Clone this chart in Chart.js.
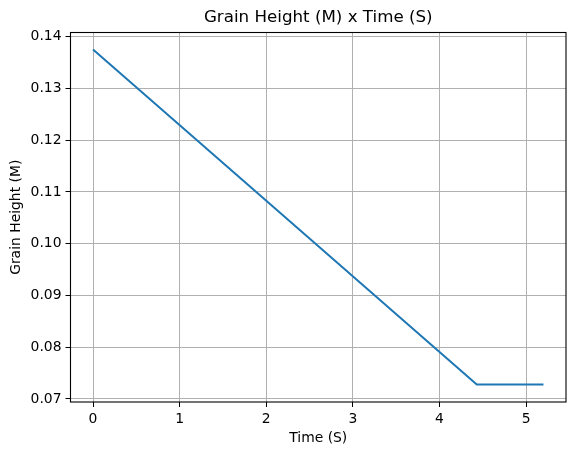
<!DOCTYPE html>
<html>
<head>
<meta charset="utf-8">
<script src="https://cdn.jsdelivr.net/npm/chart.js@4"></script>
<style>
  html, body { margin: 0; padding: 0; background: #fff; }
  #wrap { width: 576px; height: 455px; }
</style>
</head>
<body>
<div id="wrap"><canvas id="c" width="576" height="455"></canvas></div>
<script>
// Grain height over time
const timeS = [0, 4.43, 5.2];
const heightM = [0.1375, 0.0728, 0.0728];
const xTicks = [0, 1, 2, 3, 4, 5];
const yTicks = [0.07, 0.08, 0.09, 0.10, 0.11, 0.12, 0.13, 0.14];
const chartTitle = "Grain Height (M) x Time (S)";

const FONT = "'DejaVu Sans', sans-serif";

// full box around the plot area + title centred over the axes, like matplotlib
const boxPlugin = {
  id: "box",
  afterDatasetsDraw(chart) {
    const a = chart.chartArea;
    const ctx = chart.ctx;
    ctx.save();
    ctx.strokeStyle = "#000";
    ctx.lineWidth = 1.1;
    ctx.strokeRect(a.left, a.top, a.right - a.left, a.bottom - a.top);
    ctx.fillStyle = "#000";
    ctx.font = "16.7px " + FONT;
    ctx.textAlign = "center";
    ctx.textBaseline = "middle";
    ctx.fillText(chartTitle, (a.left + a.right) / 2, 18);
    ctx.restore();
  }
};

new Chart(document.getElementById("c"), {
  type: "line",
  data: {
    datasets: [{
      data: timeS.map((t, i) => ({ x: t, y: heightM[i] })),
      borderColor: "#1f77b4",
      borderWidth: 2,
      pointRadius: 0,
      fill: false,
      tension: 0
    }]
  },
  options: {
    responsive: false,
    animation: false,
    layout: { padding: { left: 0, right: 10, top: 32.5, bottom: 0 } },
    plugins: {
      legend: { display: false },
      tooltip: { enabled: false },
      title: { display: false }
    },
    scales: {
      x: {
        type: "linear",
        min: -0.26,
        max: 5.46,
        afterBuildTicks: s => { s.ticks = xTicks.map(v => ({ value: v })); },
        afterFit: s => { s.height = 53; },
        grid: { color: "#b0b0b0", lineWidth: 1, tickColor: "#000", tickLength: 5, drawTicks: true },
        border: { display: false },
        ticks: {
          color: "#000",
          padding: 4,
          maxRotation: 0,
          font: { family: FONT, size: 13.9 },
          callback: v => String(v)
        },
        title: {
          display: true,
          text: "Time (S)",
          color: "#000",
          font: { family: FONT, size: 13.9, lineHeight: 1.2 },
          padding: { top: 0, bottom: 8.5 }
        }
      },
      y: {
        type: "linear",
        min: 0.0694,
        max: 0.1408,
        afterBuildTicks: s => { s.ticks = yTicks.map(v => ({ value: v })); },
        afterFit: s => { s.width = 70.5; },
        grid: { color: "#b0b0b0", lineWidth: 1, tickColor: "#000", tickLength: 5, drawTicks: true },
        border: { display: false },
        ticks: {
          color: "#000",
          padding: 4,
          font: { family: FONT, size: 13.9 },
          callback: v => v.toFixed(2)
        },
        title: {
          display: true,
          text: "Grain Height (M)",
          color: "#000",
          font: { family: FONT, size: 13.9, lineHeight: 1.2 },
          padding: { top: 8.5, bottom: 0 }
        }
      }
    }
  },
  plugins: [boxPlugin]
});
</script>
</body>
</html>
